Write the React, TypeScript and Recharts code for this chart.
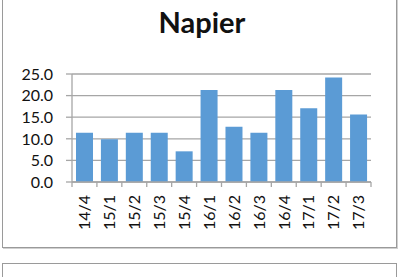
import React from "react";
import { BarChart, Bar, XAxis, YAxis, CartesianGrid } from "recharts";

const quarters = ["14/4", "15/1", "15/2", "15/3", "15/4", "16/1", "16/2", "16/3", "16/4", "17/1", "17/2", "17/3"];
const values = [11.4, 9.9, 11.4, 11.4, 7.1, 21.3, 12.8, 11.4, 21.3, 17.1, 24.2, 15.6];
const yTicks = [0, 5, 10, 15, 20, 25];

const data = quarters.map((q, i) => ({ q, v: values[i] }));

const FONT = "Lato, 'Open Sans', sans-serif";
const AXIS = "#a6a6a6";

function QuarterTick(props: any) {
  const { x, y, payload, index, visibleTicksCount, width } = props;
  const half = payload.offset || width / visibleTicksCount / 2;
  const last = index === visibleTicksCount - 1;
  return (
    <g>
      <line x1={x - half} x2={x - half} y1={y} y2={y + 5} stroke={AXIS} strokeWidth={1.3} />
      {last && <line x1={x + half} x2={x + half} y1={y} y2={y + 5} stroke={AXIS} strokeWidth={1.3} />}
      <text
        x={x}
        y={y + 13}
        transform={`rotate(-90 ${x} ${y + 13})`}
        textAnchor="end"
        dy="0.36em"
        fontSize={16}
        fontFamily={FONT}
        fill="#111"
      >
        {payload.value}
      </text>
    </g>
  );
}

function ValueTick(props: any) {
  const { x, y, payload } = props;
  return (
    <text x={x - 11} y={y} dy="0.36em" textAnchor="end" fontSize={16} fontFamily={FONT} fill="#111">
      {Number(payload.value).toFixed(1)}
    </text>
  );
}

export default function App() {
  return (
    <div style={{ position: "absolute", left: 0, top: 0, width: 401, height: 277, overflow: "hidden", background: "#fff" }}>
      <div style={{ position: "absolute", left: 2, top: -10, width: 393, height: 256, border: "1px solid #9a9a9a", boxShadow: "1px 1px 0 #d0d0d0" }} />
      <div style={{ position: "absolute", left: 2, top: 263, width: 393, height: 40, border: "1px solid #9a9a9a" }} />
      <div
        style={{
          position: "absolute",
          left: 0,
          top: 4,
          width: 404,
          textAlign: "center",
          fontFamily: FONT,
          fontWeight: 700,
          fontSize: 29,
          color: "#111",
        }}
      >
        Napier
      </div>
      <div style={{ position: "absolute", left: 0, top: 0 }}>
        <BarChart
          width={401}
          height={248}
          data={data}
          margin={{ top: 74, right: 30, bottom: 6, left: 12 }}
          barCategoryGap="16%"
        >
          <CartesianGrid vertical={false} stroke={AXIS} strokeWidth={1.3} />
          <XAxis
            dataKey="q"
            interval={0}
            height={60}
            axisLine={{ stroke: AXIS, strokeWidth: 1.3 }}
            tickLine={false}
            tickSize={0}
            tickMargin={0}
            tick={<QuarterTick />}
          />
          <YAxis
            width={60}
            domain={[0, 25]}
            ticks={yTicks}
            interval={0}
            axisLine={{ stroke: AXIS, strokeWidth: 1.3 }}
            tickLine={{ stroke: AXIS, strokeWidth: 1.3 }}
            tickSize={6}
            tickMargin={2}
            tick={<ValueTick />}
          />
          <Bar dataKey="v" fill="#5b9bd5" isAnimationActive={false} />
        </BarChart>
      </div>
    </div>
  );
}
